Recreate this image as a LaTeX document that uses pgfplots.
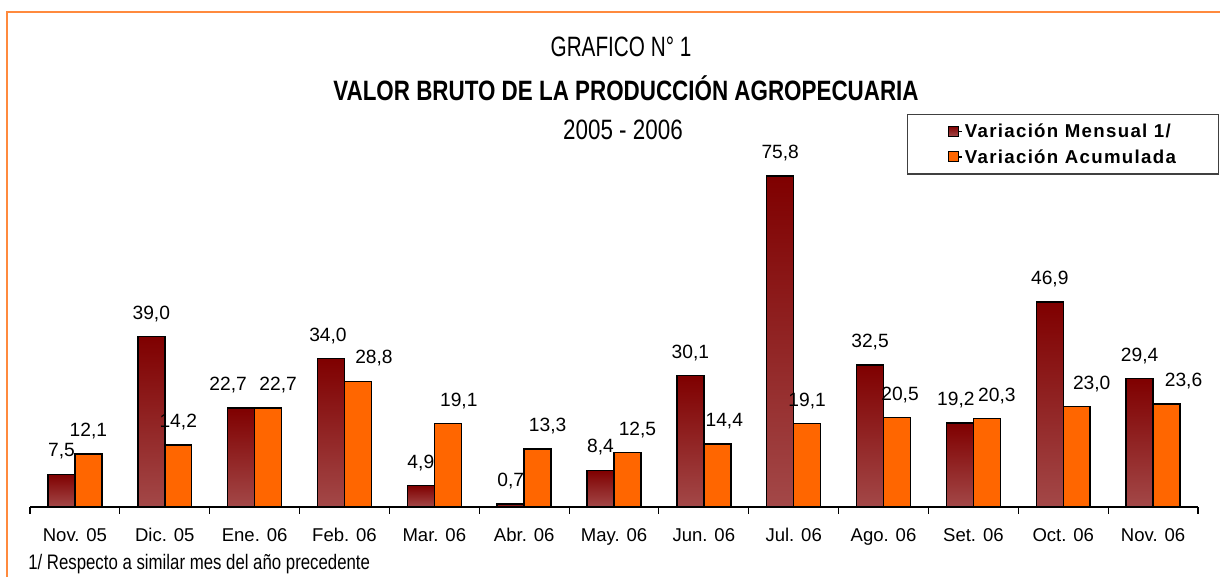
\documentclass[border=0pt]{standalone}
\usepackage{fontspec}
\setmainfont{Liberation Sans}
\newfontfamily\narrowfont[FakeStretch=0.8]{Liberation Sans}
\newfontfamily\narrowerfont[FakeStretch=0.74]{Liberation Sans}
\newfontfamily\legfont[LetterSpace=7]{Liberation Sans}
\usepackage{pgfplots}
\usepackage{pgfplotstable}
\pgfplotsset{compat=1.18}
\definecolor{darkred}{HTML}{7F0000}
\definecolor{rose}{HTML}{A34848}
\definecolor{orng}{HTML}{FF6600}
\definecolor{frameor}{HTML}{FF8A3D}
\pgfplotsset{darkbar/.style={draw=black, line width=1.1pt, top color=darkred, bottom color=rose, bar shift=-0.15}}
% Variacion Acumulada; dx = horizontal offset of the value label (pt)
\pgfplotstableread{
x y dx
0 12.1 0
1 14.2 0
2 22.7 7.5
3 28.8 12
4 19.1 8.25
5 13.3 7.5
6 12.5 7.5
7 14.4 5.25
8 19.1 0
9 20.5 2.25
10 20.3 7.5
11 23.0 11.25
12 23.6 12.75
}\acumulada
\begin{document}
\begin{tikzpicture}[x=0.75pt,y=0.75pt]
\path[use as bounding box] (0,0) rectangle (1220,577);
\draw[frameor, line width=1.6pt] (7,0) -- (7,565) -- (1220,565);
\node[font=\narrowerfont\fontsize{21}{24}\selectfont] at (621,530) {GRAFICO N° 1};
\node[font=\narrowfont\bfseries\fontsize{21}{24}\selectfont] at (626,489) {VALOR BRUTO DE LA PRODUCCIÓN AGROPECUARIA};
\node[font=\narrowfont\fontsize{21}{24}\selectfont] at (623,447) {2005 - 2006};
\node[anchor=west, inner sep=0pt, font=\narrowfont\fontsize{15.75}{18}\selectfont] at (28,13) {1/ Respecto a similar mes del año precedente};
\begin{axis}[
  at={(22.5pt,52.5pt)}, anchor=south west,
  scale only axis, width=876pt, height=262pt,
  ymin=0, ymax=80, xmin=-0.5, xmax=12.5,
  clip=false,
  axis x line=bottom, axis y line=none,
  x axis line style={-, line width=0.9pt},
  ybar, bar width=0.3,
  xtick={0,...,12},
  xticklabels={Nov. 05, Dic. 05, Ene. 06, Feb. 06, Mar. 06, Abr. 06, May. 06, Jun. 06, Jul. 06, Ago. 06, Set. 06, Oct. 06, Nov. 06},
  major tick length=0pt,
  minor xtick={-0.5,0.5,...,12.5},
  minor tick length=5pt,
  tick align=outside,
  minor tick style={black, line width=0.8pt},
  xticklabel style={font=\fontsize{13.9}{16}\selectfont, yshift=-12.5pt},
  /pgf/number format/assume math mode=true,
  /pgf/number format/.cd, fixed, fixed zerofill, precision=1, use comma, /pgfplots/.cd,
  nodes near coords,
  every node near coord/.append style={font=\fontsize{14.4}{16}\selectfont, anchor=base, yshift=13pt, black},
  legend style={at={(0.751,1.1248)}, anchor=north west, draw=black!75, line width=0.9pt,
    font=\legfont\bfseries\fontsize{14}{16}\selectfont, inner xsep=30pt, inner ysep=4.75pt,
    row sep=3.5pt, legend cell align=left},
  legend image code/.code={\path (0pt,0pt) -- (9.75pt,0pt); \draw[#1, line width=0.8pt] (0pt,-3.5pt) rectangle (7.5pt,4pt);},
]
\addplot[darkbar] coordinates {(0,7.5)};
\addplot[draw=black, line width=1.1pt, fill=orng, bar shift=0.15,
  visualization depends on={\thisrow{dx} \as \dx},
  every node near coord/.append style={xshift=\dx pt}]
  table[x=x, y=y] {\acumulada};
\addplot[darkbar, forget plot] coordinates {(1,39.0)};
\addplot[darkbar, forget plot, every node near coord/.append style={xshift=-9.75pt}] coordinates {(2,22.7)};
\addplot[darkbar, forget plot, every node near coord/.append style={xshift=-2.25pt}] coordinates {(3,34.0)};
\addplot[darkbar, forget plot] coordinates {(4,4.9)};
\addplot[darkbar, forget plot] coordinates {(5,0.7)};
\addplot[darkbar, forget plot] coordinates {(6,8.4)};
\addplot[darkbar, forget plot] coordinates {(7,30.1)};
\addplot[darkbar, forget plot] coordinates {(8,75.8)};
\addplot[darkbar, forget plot] coordinates {(9,32.5)};
\addplot[darkbar, forget plot, every node near coord/.append style={xshift=-3pt}] coordinates {(10,19.2)};
\addplot[darkbar, forget plot] coordinates {(11,46.9)};
\addplot[darkbar, forget plot] coordinates {(12,29.4)};
\legend{Variación Mensual 1/, Variación Acumulada}
\end{axis}
\end{tikzpicture}
\end{document}
